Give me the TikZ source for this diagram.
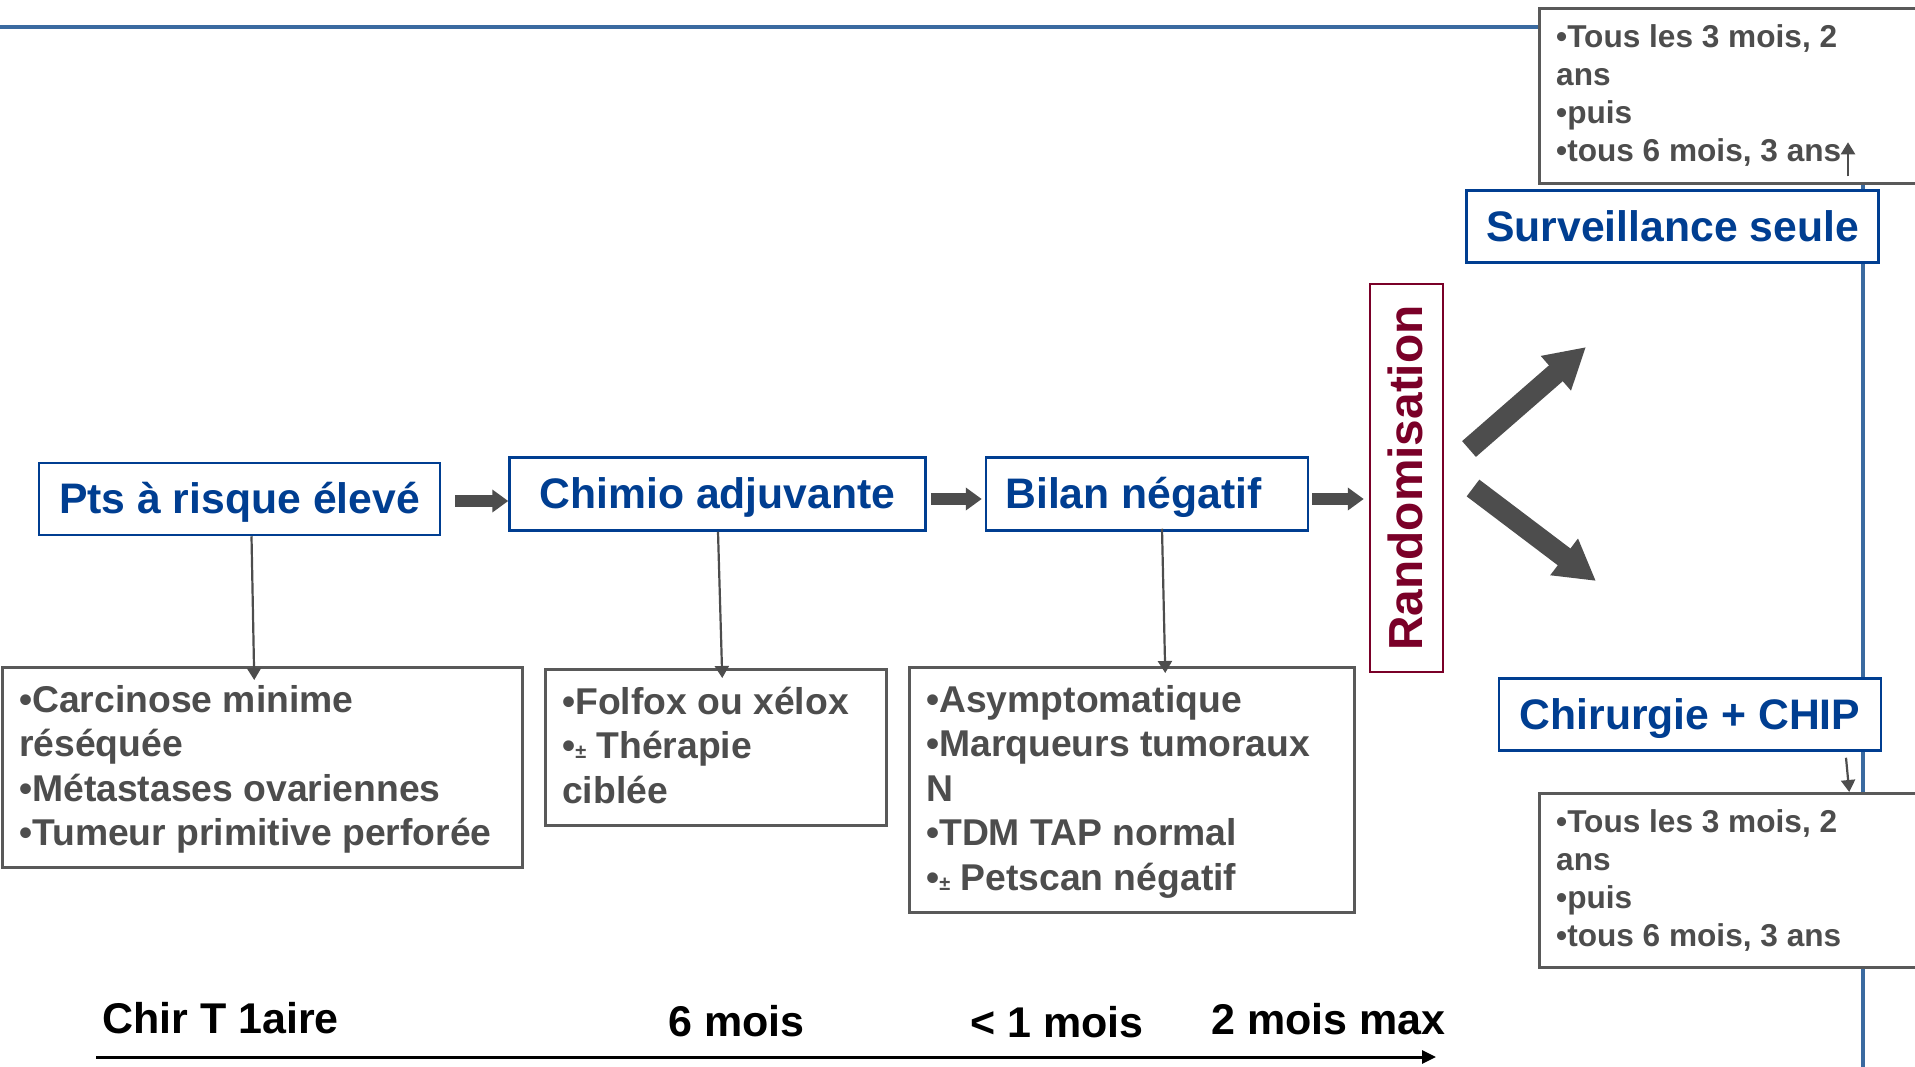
\documentclass[tikz,border=0pt]{standalone}
\usepackage{fontspec}
\setmainfont{Liberation Sans}
\usetikzlibrary{arrows.meta}
\definecolor{tblue}{RGB}{0,62,145}
\definecolor{lblue}{RGB}{58,106,160}
\definecolor{dred}{RGB}{122,0,40}
\definecolor{dgray}{RGB}{77,77,77}
\definecolor{bgray}{RGB}{89,89,89}
\begin{document}
\begin{tikzpicture}[x=1pt,y=-1pt,
 titlebox/.style={draw=tblue, line width=2.5pt, fill=white, text=tblue, font=\fontsize{42.7}{50}\selectfont\bfseries, text height=29.4pt, text depth=0pt, inner sep=0pt},
 greybox/.style={draw=bgray, line width=2.5pt, fill=white, inner sep=0pt, anchor=north west},
 greytext/.style={text=dgray, font=\fontsize{37.3}{44.5}\selectfont\bfseries, align=left, anchor=north west, inner xsep=18pt, inner ysep=15pt},
 smalltext/.style={text=dgray, font=\fontsize{31.6}{38.3}\selectfont\bfseries, align=left, anchor=north west, inner xsep=18pt, inner ysep=13pt},
 blockarrow/.style={draw=dgray, line width=12pt, -{Triangle[length=16pt,width=22pt]}},
 bigarrow/.style={draw=dgray, line width=21pt, -{Triangle[length=40pt,width=43pt]}},
 conn/.style={draw=dgray, line width=2.2pt, -{Triangle[length=12pt,width=14pt]}},
 timetext/.style={font=\fontsize{43}{50}\selectfont\bfseries, anchor=base west, inner sep=0pt}
]
\useasboundingbox (0,0) rectangle (1915,1066);

% blue frame line
\coordinate (fl0) at (0,27);
\coordinate (fl1) at (1863,27);
\coordinate (fl2) at (1863,1075);
\draw[lblue, line width=4.5pt] (fl0) -- (fl1) -- (fl2);

% title boxes
\node[titlebox, minimum width=401pt, minimum height=72pt] (pts) at (239.5,499) {Pts à risque élevé};
\node[titlebox, minimum width=416pt, minimum height=73pt] (chimio) at (717.5,494) {Chimio adjuvante};
\node[titlebox, minimum width=322pt, minimum height=73pt] (bilan) at (1147,494) {Bilan négatif\kern27pt};
\node[titlebox, minimum width=412pt, minimum height=72pt] (surv) at (1672.5,226.5) {Surveillance seule};
\node[titlebox, minimum width=382pt, minimum height=72pt] (chir) at (1690,714.5) {Chirurgie + CHIP};

% randomisation
\node[draw=dred, line width=2.5pt, fill=white, text=dred, font=\fontsize{47.8}{55}\selectfont\bfseries, rotate=90, minimum width=388pt, minimum height=73pt, inner sep=0pt, text height=32.5pt, text depth=0pt] (rand) at (1406.5,478) {Randomisation};

% grey boxes
\node[greybox, minimum width=520pt, minimum height=200pt] (b1) at (1,666) {};
\node[greytext] (t1) at (b1.north west) {\strut•Carcinose minime\\réséquée\\•Métastases ovariennes\\•Tumeur primitive perforée};

\node[greybox, minimum width=341pt, minimum height=156pt] (b2) at (544,668) {};
\node[greytext] (t2) at (b2.north west) {\strut•Folfox ou xélox\\•{\fontsize{20}{20}\selectfont±} Thérapie\\ciblée};

\node[greybox, minimum width=445pt, minimum height=245pt] (b3) at (908,666) {};
\node[greytext] (t3) at (b3.north west) {\strut•Asymptomatique\\•Marqueurs tumoraux\\N\\•TDM TAP normal\\•{\fontsize{20}{20}\selectfont±} Petscan négatif};

\node[greybox, minimum width=400pt, minimum height=175pt] (tbox) at (1538,7) {};
\node[smalltext] (tt) at (tbox.north west) {\strut•Tous les 3 mois, 2\\ans\\•puis\\•tous 6 mois, 3 ans};

\node[greybox, minimum width=400pt, minimum height=174pt] (bbox) at (1538,792) {};
\node[smalltext] (bt) at (bbox.north west) {\strut•Tous les 3 mois, 2\\ans\\•puis\\•tous 6 mois, 3 ans};

% block arrows
\draw[blockarrow] ([xshift=14pt,yshift=-2pt]pts.east) -- ([yshift=-7pt]chimio.west);
\draw[blockarrow] ([xshift=4pt,yshift=-5pt]chimio.east) -- ([xshift=-3pt,yshift=-5pt]bilan.west);
\draw[blockarrow] ([xshift=3pt,yshift=-5pt]bilan.east) -- ([xshift=-5pt,yshift=-21pt]rand.north);

% randomisation arrows
\coordinate (u0) at (1469,449);
\coordinate (u1) at (1586,347);
\coordinate (d0) at (1473,488);
\coordinate (d1) at (1596,581);
\draw[bigarrow] (u0) -- (u1);
\draw[bigarrow] (d0) -- (d1);

% thin connectors
\draw[conn] ([xshift=12pt]pts.south) -- ([xshift=-8pt,yshift=-14pt]b1.north);
\draw[conn] ([xshift=0.5pt]chimio.south) -- ([xshift=6.5pt,yshift=-10pt]b2.north);
\draw[conn] ([xshift=15pt,yshift=3pt]bilan.south) -- ([xshift=33.5pt,yshift=-7pt]b3.north);
\draw[conn] ([xshift=175.5pt,yshift=13pt]surv.north) -- ++(0,-34);
\draw[conn] ([xshift=156pt,yshift=-6pt]chir.south) -- ([xshift=110pt]bbox.north);

% timeline
\coordinate (tl0) at (96,1057);
\coordinate (tl1) at (1436,1057);
\draw[black, line width=3pt, -{Triangle[length=14pt,width=13pt]}] (tl0) -- (tl1);
\node[timetext] (l1) at (102,1033) {Chir T 1aire};
\node[timetext] (l2) at (668,1036) {6 mois};
\node[timetext] (l3) at (970,1037) {< 1 mois};
\node[timetext] (l4) at (1211,1034) {2 mois max};
\end{tikzpicture}
\end{document}
